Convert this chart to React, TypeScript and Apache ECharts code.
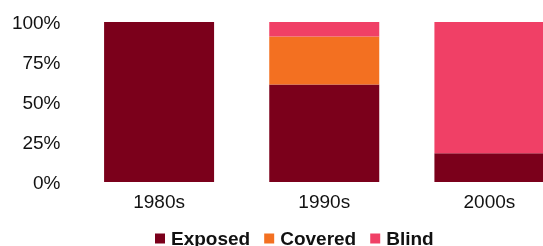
import React, { useEffect, useRef } from "react";
import * as echarts from "echarts";

const categories = ["1980s", "1990s", "2000s"];
const exposed = [100, 61, 18];
const covered = [0, 30, 0];
const blind = [0, 9, 82];
const yTicks = [0, 25, 50, 75, 100];

const FONT = "'Liberation Sans', Arial, Helvetica, sans-serif";

export default function App() {
  const ref = useRef<HTMLDivElement>(null);
  useEffect(() => {
    if (!ref.current) return;
    const chart = echarts.init(ref.current, undefined, { renderer: "svg" });
    const mk = (name: string, data: number[], color: string) => ({
      name,
      type: "bar",
      stack: "total",
      data,
      barWidth: 110,
      itemStyle: { color },
      emphasis: { disabled: true },
    });
    chart.setOption({
      animation: false,
      textStyle: { fontFamily: FONT },
      grid: { left: 76.5, right: 0, top: 22, bottom: 64 },
      legend: {
        left: 155,
        top: 229,
        padding: 0,
        itemWidth: 10,
        itemHeight: 10,
        itemGap: 14,
        icon: "rect",
        textStyle: {
          fontFamily: FONT,
          fontSize: 19,
          fontWeight: "bold",
          color: "#111",
          padding: [0, 0, 0, 1],
        },
        data: ["Exposed", "Covered", "Blind"],
      },
      xAxis: {
        type: "category",
        data: categories,
        axisLine: { show: false },
        axisTick: { show: false },
        axisLabel: { fontSize: 19, color: "#111", margin: 10, fontFamily: FONT },
      },
      yAxis: {
        type: "value",
        min: yTicks[0],
        max: yTicks[yTicks.length - 1],
        interval: 25,
        splitLine: { show: false },
        axisLine: { show: false },
        axisTick: { show: false },
        axisLabel: { fontSize: 19, color: "#111", margin: 16, formatter: "{value}%", fontFamily: FONT },
      },
      series: [
        mk("Exposed", exposed, "#7B001B"),
        mk("Covered", covered, "#F37021"),
        mk("Blind", blind, "#F04066"),
      ],
    });
    return () => chart.dispose();
  }, []);
  return (
    <div style={{ position: "fixed", left: 0, top: 0, width: 543, height: 246, overflow: "hidden" }}>
      <div ref={ref} style={{ width: 572, height: 246 }} />
    </div>
  );
}
